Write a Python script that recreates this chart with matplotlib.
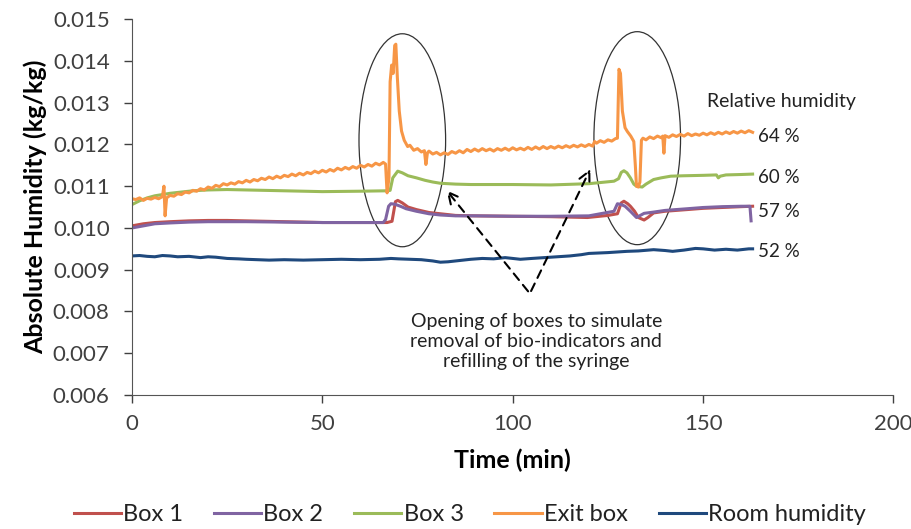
import matplotlib.pyplot as plt
from matplotlib.patches import Ellipse

plt.rcParams['font.family'] = ['Lato', 'DejaVu Sans']

# Box 1
t_box1 = [0, 3, 6, 10, 15, 20, 25, 30, 40, 50, 60, 67, 68.3, 69.2, 69.8, 71, 72.5, 74.7, 78, 81, 85, 90,
          100, 110, 119.6, 125, 127.5, 128.5, 129.2, 130.2, 130.9, 132, 133, 134.5, 135.5, 137, 140, 145.8,
          150, 155, 160, 163]
h_box1 = [0.01005, 0.0101, 0.01013, 0.01015, 0.01017, 0.01018, 0.01018, 0.01017, 0.01015, 0.01013, 0.01013,
          0.01013, 0.01016, 0.01063, 0.01066, 0.0106, 0.0105, 0.01044, 0.01037, 0.01034, 0.0103, 0.01029,
          0.01028, 0.01027, 0.01025, 0.0103, 0.01034, 0.0106, 0.01064, 0.01058, 0.01052, 0.0104, 0.01025,
          0.01019, 0.01025, 0.01036, 0.0104, 0.01044, 0.01047, 0.01049, 0.01051, 0.01052]

# Box 2
t_box2 = [0, 3, 6, 10, 15, 20, 30, 40, 50, 60, 66, 66.6, 67.4, 68, 69, 70.5, 72, 74.7, 78, 81, 85, 90,
          100, 110, 120, 126.6, 127.5, 128.5, 129.5, 130.9, 132.5, 133.5, 134.5, 137, 140, 145.8, 150, 155,
          160, 162.3, 162.6]
h_box2 = [0.0100, 0.01005, 0.0101, 0.01012, 0.01014, 0.01015, 0.01015, 0.01014, 0.01013, 0.01013, 0.01013,
          0.0102, 0.01052, 0.01058, 0.01057, 0.01052, 0.01046, 0.0104, 0.01034, 0.01031, 0.01029, 0.01029,
          0.01028, 0.01028, 0.01029, 0.0104, 0.01058, 0.01056, 0.01052, 0.0104, 0.01025, 0.0103, 0.01035,
          0.01038, 0.01042, 0.01046, 0.01049, 0.01051, 0.01052, 0.01052, 0.01017]

# Box 3
t_box3 = [0, 2, 4, 6, 8, 10, 13, 16, 20, 25, 30, 40, 50, 60, 67, 67.8, 68.5, 69.8, 71, 72.5, 74.7, 77, 79,
          81, 85, 89, 100, 110, 120, 126.6, 127.8, 128.5, 129.2, 130, 130.9, 131.8, 132.5, 134, 135, 137, 139,
          141.5, 145, 150, 153.5, 154, 154.5, 156, 160, 163]
h_box3 = [0.01056, 0.01065, 0.01072, 0.01077, 0.0108, 0.01083, 0.01086, 0.01089, 0.01091, 0.01092, 0.01091,
          0.01089, 0.01087, 0.01088, 0.01089, 0.0109, 0.0112, 0.01136, 0.01132, 0.01125, 0.0112, 0.01114,
          0.0111, 0.01107, 0.01105, 0.01104, 0.01104, 0.01103, 0.01106, 0.01112, 0.01118, 0.01133, 0.01137,
          0.01132, 0.0112, 0.01105, 0.011, 0.01098, 0.01105, 0.01116, 0.0112, 0.01124, 0.01125, 0.01126,
          0.01127, 0.0112, 0.01124, 0.01127, 0.01128, 0.01129]

# Exit box, (time, humidity) pairs
exit_points = [
    (0, 0.0107), (1, 0.01068), (2, 0.01072), (3, 0.01066), (4, 0.01071), (5, 0.01069), (6, 0.01073),
    (7, 0.0107), (8, 0.01075), (8.4, 0.0110), (8.7, 0.01029), (9.1, 0.01072), (10, 0.01078),
    (11, 0.01076), (12, 0.01082), (13, 0.0108), (14, 0.01086), (15, 0.01084), (16, 0.0109),
    (17, 0.01088), (18, 0.01094), (19, 0.01091), (20, 0.01098), (21, 0.01095), (22, 0.01102),
    (23, 0.01099), (24, 0.01106), (25, 0.01103), (26, 0.01108), (27, 0.01105), (28, 0.01111),
    (29, 0.01108), (30, 0.01114), (31, 0.0111), (32, 0.01116), (33, 0.01113), (34, 0.01119),
    (35, 0.01116), (36, 0.01122), (37, 0.01118), (38, 0.01124), (39, 0.0112), (40, 0.01126),
    (41, 0.01123), (42, 0.01129), (43, 0.01125), (44, 0.01131), (45, 0.01127), (46, 0.01133),
    (47, 0.0113), (48, 0.01136), (49, 0.01132), (50, 0.01138), (51, 0.01134), (52, 0.0114),
    (53, 0.01136), (54, 0.01143), (55, 0.01139), (56, 0.01145), (57, 0.01141), (58, 0.01147),
    (59, 0.01143), (60, 0.0115), (61, 0.01146), (62, 0.01152), (63, 0.01148), (64, 0.01155),
    (65, 0.01151), (66, 0.01157), (66.6, 0.01153), (67.0, 0.01084), (67.5, 0.0112), (67.8, 0.0135),
    (68.2, 0.0139), (68.6, 0.0137), (69.0, 0.01437), (69.3, 0.0144), (69.7, 0.0136), (70.2, 0.0128),
    (70.8, 0.01232), (71.5, 0.0121), (72.4, 0.01195), (73, 0.01198), (74, 0.01186), (75, 0.0119),
    (76, 0.01182), (76.8, 0.01185), (77.2, 0.01152), (77.6, 0.0118), (78, 0.01184), (79, 0.01177),
    (80, 0.01181), (81, 0.01175), (82, 0.0118), (83, 0.01176), (84, 0.01183), (85, 0.01179),
    (86, 0.01185), (87, 0.0118), (88, 0.01188), (89, 0.01183), (90, 0.01189), (91, 0.01184),
    (92, 0.0119), (93, 0.01185), (94, 0.01189), (95, 0.01184), (96, 0.0119), (97, 0.01186),
    (98, 0.01191), (99, 0.01186), (100, 0.01192), (101, 0.01187), (102, 0.01191), (103, 0.01187),
    (104, 0.01193), (105, 0.01188), (106, 0.01194), (107, 0.01189), (108, 0.01195), (109, 0.0119),
    (110, 0.01195), (111, 0.01191), (112, 0.01196), (113, 0.01192), (114, 0.01197), (115, 0.01193),
    (116, 0.01198), (117, 0.01194), (118, 0.01199), (119, 0.01195), (120, 0.012), (121, 0.01196),
    (121.5, 0.01207), (122, 0.01203), (123, 0.01209), (124, 0.01205), (125, 0.01211), (126, 0.01208),
    (127, 0.01214), (127.5, 0.01215), (127.9, 0.0138), (128.3, 0.0137), (128.8, 0.0128),
    (129.5, 0.0124), (130.1, 0.01231), (131, 0.0122), (131.8, 0.01207), (132.2, 0.0115),
    (132.5, 0.011), (133.0, 0.01098), (133.4, 0.0111), (133.8, 0.0121), (134.2, 0.01215),
    (135, 0.01211), (136, 0.01218), (137, 0.01214), (138, 0.0122), (139, 0.01216), (139.4, 0.0122),
    (139.7, 0.01179), (140, 0.01221), (141, 0.01217), (142, 0.01223), (143, 0.01219), (144, 0.01224),
    (145, 0.0122), (146, 0.01226), (147, 0.01221), (148, 0.01225), (149, 0.01222), (150, 0.01227),
    (151, 0.01223), (152, 0.01228), (153, 0.01224), (154, 0.01229), (155, 0.01225), (156, 0.0123),
    (157, 0.01226), (158, 0.01231), (159, 0.01227), (160, 0.01232), (161, 0.01228), (162, 0.01233),
    (163, 0.01229),
]
t_exit = [p[0] for p in exit_points]
h_exit = [p[1] for p in exit_points]

# Room humidity
t_room = [0, 2, 4, 6, 8, 10, 12, 15, 18, 20, 22, 25, 28, 30, 33, 36, 40, 45, 50, 55, 60, 65, 68, 70, 73, 76,
          79, 81, 83, 86, 89, 92, 95, 98, 100, 102, 105, 110, 115, 118, 120, 125, 130, 133, 137, 140, 142, 145,
          148, 150, 153, 156, 159, 162, 163]
h_room = [0.00933, 0.00934, 0.00932, 0.00931, 0.00934, 0.00933, 0.00931, 0.00932, 0.00929, 0.00931, 0.0093,
          0.00927, 0.00926, 0.00925, 0.00924, 0.00923, 0.00924, 0.00923, 0.00924, 0.00925, 0.00924, 0.00925,
          0.00927, 0.00926, 0.00925, 0.00924, 0.00921, 0.00918, 0.00919, 0.00922, 0.00925, 0.00927, 0.00926,
          0.00929, 0.00927, 0.00925, 0.00927, 0.0093, 0.00933, 0.00936, 0.00939, 0.00941, 0.00944, 0.00945,
          0.00948, 0.00946, 0.00944, 0.00947, 0.00951, 0.0095, 0.00947, 0.00949, 0.00947, 0.0095, 0.0095]

series_names = ['Box 1', 'Box 2', 'Box 3', 'Exit box', 'Room humidity']
rh_labels = ['64 %', '60 %', '57 %', '52 %']
rh_y = [0.01219, 0.01122, 0.0104, 0.00944]

fig = plt.figure(figsize=(9.12, 5.29), dpi=100)
ax = fig.add_axes([0.1447, 0.2533, 0.835, 0.7105])

ax.plot(t_box1, h_box1, color='#C0504D', lw=2.2, label=series_names[0])
ax.plot(t_box2, h_box2, color='#8064A2', lw=2.2, label=series_names[1])
ax.plot(t_box3, h_box3, color='#9BBB59', lw=2.2, label=series_names[2])
ax.plot(t_exit, h_exit, color='#F79646', lw=2.2, label=series_names[3])
ax.plot(t_room, h_room, color='#1F497D', lw=2.2, label=series_names[4])

ax.set_xlim(0, 200)
ax.set_ylim(0.006, 0.015)
ax.set_xticks([0, 50, 100, 150, 200])
ax.set_yticks([0.006 + 0.001 * i for i in range(10)])
ax.set_yticklabels(['%.3f' % (0.006 + 0.001 * i) for i in range(10)])
ax.tick_params(labelsize=16, colors='#404040', length=6, width=1)
ax.tick_params(axis='x', pad=8)
ax.tick_params(axis='y', pad=10)
for s in ['top', 'right']:
    ax.spines[s].set_visible(False)
for s in ['left', 'bottom']:
    ax.spines[s].set_color('#555555')

ax.set_xlabel('Time (min)', fontsize=18, fontweight='bold', labelpad=10)
ax.set_ylabel('Absolute Humidity (kg/kg)', fontsize=18, fontweight='bold', labelpad=4)

# ellipses around door openings
ax.add_patch(Ellipse((71.0, 0.0121), 22.75, 0.0051, fill=False, ec='#333333', lw=0.9))
ax.add_patch(Ellipse((132.7, 0.01215), 22.75, 0.0051, fill=False, ec='#333333', lw=0.9))

arrow = dict(arrowstyle='->', linestyle=(0, (4, 3)), color='black', lw=1.5, mutation_scale=20)
ax.annotate('', xy=(82.2, 0.01095), xytext=(104.5, 0.00843), arrowprops=arrow)
ax.annotate('', xy=(120.7, 0.01147), xytext=(104.5, 0.00843), arrowprops=arrow)
ax.text(106.2, 0.00728, 'Opening of boxes to simulate\nremoval of bio-indicators and\nrefilling of the syringe',
        ha='center', va='center', fontsize=14, linespacing=1.2, color='#222222')

ax.text(150.9, 0.01302, 'Relative humidity', fontsize=14, va='center', color='#222222')
for lab, y in zip(rh_labels, rh_y):
    ax.text(164.5, y, lab, fontsize=13.5, va='center', color='#222222')

fig.legend(loc='center', bbox_to_anchor=(0.515, 0.027), ncol=5, frameon=False, fontsize=17,
           handlelength=2.0, columnspacing=1.3, handletextpad=0.1, labelcolor='#222222')

fig.savefig('out.png', dpi=100)
